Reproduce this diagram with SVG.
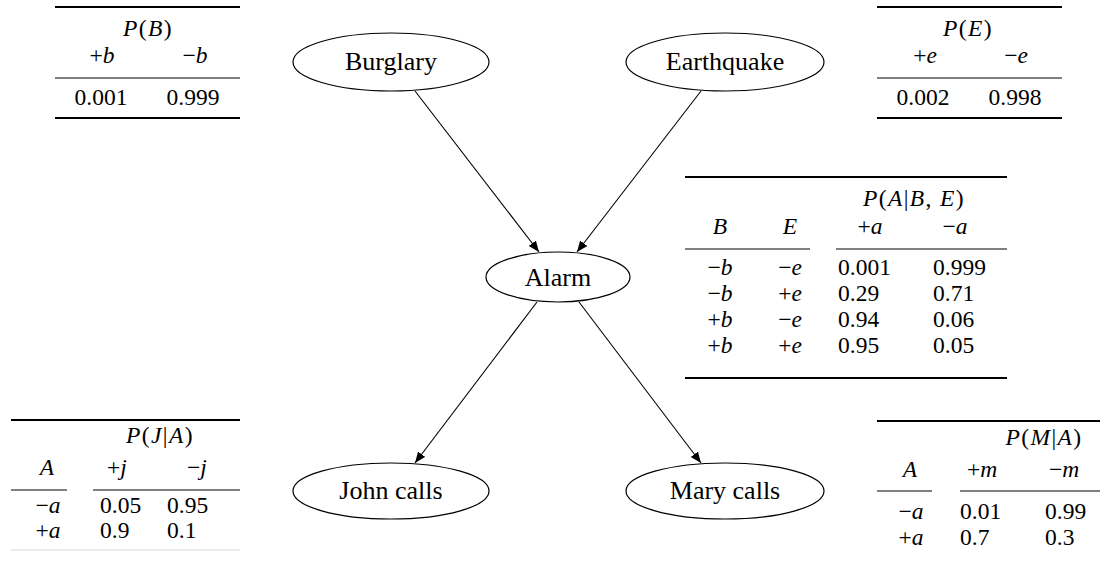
<svg xmlns="http://www.w3.org/2000/svg" width="1100" height="561" viewBox="0 0 1100 561" font-family="Liberation Serif, serif">
<defs>
<style>
text{font-family:'Liberation Serif',serif;fill:#000}
.lbl{font-size:26px;text-anchor:middle}
.t{font-size:23.5px}
.c{text-anchor:middle}
.i{font-style:italic}
.ttl{letter-spacing:1.4px}
.node{fill:#fff;stroke:#000;stroke-width:1.2}
.edge{stroke:#000;stroke-width:1.1;fill:none}
.heavy{stroke:#000;stroke-width:2}
.light{stroke:#000;stroke-width:1}
</style>
<marker id="arr" markerWidth="12" markerHeight="10" refX="11" refY="4.5" orient="auto" markerUnits="userSpaceOnUse">
<path d="M0,0 L11,4.5 L0,9 z" fill="#000"/>
</marker>
</defs>
<rect width="1100" height="561" fill="#fff"/>

<g id="connectors">
<line class="edge" x1="415" y1="91" x2="539" y2="252" marker-end="url(#arr)"/>
<line class="edge" x1="701" y1="91" x2="577" y2="252" marker-end="url(#arr)"/>
<line class="edge" x1="537" y1="302" x2="415" y2="463" marker-end="url(#arr)"/>
<line class="edge" x1="579" y1="302" x2="701" y2="463" marker-end="url(#arr)"/>
</g>

<g id="burglary">
<ellipse class="node" cx="391" cy="62" rx="98" ry="29"/>
<text class="lbl" x="391" y="70">Burglary</text>
</g>
<g id="earthquake">
<ellipse class="node" cx="725" cy="62" rx="99" ry="29"/>
<text class="lbl" x="725" y="70">Earthquake</text>
</g>
<g id="alarm">
<ellipse class="node" cx="558" cy="277" rx="72" ry="25"/>
<text class="lbl" x="558" y="286">Alarm</text>
</g>
<g id="john">
<ellipse class="node" cx="391" cy="491" rx="98" ry="28"/>
<text class="lbl" x="391" y="499">John calls</text>
</g>
<g id="mary">
<ellipse class="node" cx="725" cy="491" rx="99" ry="28"/>
<text class="lbl" x="725" y="499">Mary calls</text>
</g>

<g id="table-pb">
<line class="heavy" x1="55" y1="7" x2="240" y2="7"/>
<text class="t c ttl" x="148" y="36"><tspan class="i">P</tspan>(<tspan class="i">B</tspan>)</text>
<text class="t c" x="102" y="63">+<tspan class="i">b</tspan></text>
<text class="t c" x="195" y="63">−<tspan class="i">b</tspan></text>
<line class="light" x1="55" y1="78" x2="240" y2="78"/>
<text class="t c" x="101" y="105">0.001</text>
<text class="t c" x="193" y="105">0.999</text>
<line class="heavy" x1="55" y1="118" x2="240" y2="118"/>
</g>

<g id="table-pe">
<line class="heavy" x1="877" y1="7" x2="1062" y2="7"/>
<text class="t c ttl" x="968" y="36"><tspan class="i">P</tspan>(<tspan class="i">E</tspan>)</text>
<text class="t c" x="925" y="63">+<tspan class="i">e</tspan></text>
<text class="t c" x="1016" y="63">−<tspan class="i">e</tspan></text>
<line class="light" x1="877" y1="78" x2="1062" y2="78"/>
<text class="t c" x="923" y="105">0.002</text>
<text class="t c" x="1015" y="105">0.998</text>
<line class="heavy" x1="877" y1="118" x2="1062" y2="118"/>
</g>

<g id="table-pa">
<line class="heavy" x1="685" y1="177" x2="1007" y2="177"/>
<text class="t c ttl" x="914" y="206"><tspan class="i">P</tspan>(<tspan class="i">A</tspan>|<tspan class="i">B</tspan>, <tspan class="i">E</tspan>)</text>
<text class="t c i" x="720" y="234">B</text>
<text class="t c i" x="790" y="234">E</text>
<text class="t c" x="870" y="234">+<tspan class="i">a</tspan></text>
<text class="t c" x="955" y="234">−<tspan class="i">a</tspan></text>
<line class="light" x1="685" y1="249" x2="810" y2="249"/>
<line class="light" x1="836" y1="249" x2="1007" y2="249"/>
<text class="t c" x="720" y="275">−<tspan class="i">b</tspan></text>
<text class="t c" x="790" y="275">−<tspan class="i">e</tspan></text>
<text class="t" x="838" y="275">0.001</text>
<text class="t" x="933" y="275">0.999</text>
<text class="t c" x="720" y="301">−<tspan class="i">b</tspan></text>
<text class="t c" x="790" y="301">+<tspan class="i">e</tspan></text>
<text class="t" x="838" y="301">0.29</text>
<text class="t" x="933" y="301">0.71</text>
<text class="t c" x="720" y="327">+<tspan class="i">b</tspan></text>
<text class="t c" x="790" y="327">−<tspan class="i">e</tspan></text>
<text class="t" x="838" y="327">0.94</text>
<text class="t" x="933" y="327">0.06</text>
<text class="t c" x="720" y="353">+<tspan class="i">b</tspan></text>
<text class="t c" x="790" y="353">+<tspan class="i">e</tspan></text>
<text class="t" x="838" y="353">0.95</text>
<text class="t" x="933" y="353">0.05</text>
<line class="heavy" x1="685" y1="378" x2="1007" y2="378"/>
</g>

<g id="table-pj">
<line class="heavy" x1="11" y1="420" x2="240" y2="420"/>
<text class="t c ttl" x="160" y="443"><tspan class="i">P</tspan>(<tspan class="i">J</tspan>|<tspan class="i">A</tspan>)</text>
<text class="t c i" x="47" y="475">A</text>
<text class="t c" x="117" y="475">+<tspan class="i">j</tspan></text>
<text class="t c" x="197" y="475">−<tspan class="i">j</tspan></text>
<line class="light" x1="11" y1="490" x2="67" y2="490"/>
<line class="light" x1="93" y1="490" x2="240" y2="490"/>
<text class="t c" x="48" y="513">−<tspan class="i">a</tspan></text>
<text class="t" x="100" y="513">0.05</text>
<text class="t" x="167" y="513">0.95</text>
<text class="t c" x="48" y="538">+<tspan class="i">a</tspan></text>
<text class="t" x="100" y="538">0.9</text>
<text class="t" x="167" y="538">0.1</text>
<line x1="11" y1="550" x2="240" y2="550" stroke="#d8d8d8" stroke-width="1"/>
</g>

<g id="table-pm">
<line class="heavy" x1="877" y1="421" x2="1100" y2="421"/>
<text class="t c ttl" x="1044" y="445"><tspan class="i">P</tspan>(<tspan class="i">M</tspan>|<tspan class="i">A</tspan>)</text>
<text class="t c i" x="910" y="477">A</text>
<text class="t c" x="982" y="477">+<tspan class="i">m</tspan></text>
<text class="t c" x="1064" y="477">−<tspan class="i">m</tspan></text>
<line class="light" x1="877" y1="491" x2="932" y2="491"/>
<line class="light" x1="960" y1="491" x2="1100" y2="491"/>
<text class="t c" x="911" y="519">−<tspan class="i">a</tspan></text>
<text class="t" x="960" y="519">0.01</text>
<text class="t" x="1045" y="519">0.99</text>
<text class="t c" x="911" y="545">+<tspan class="i">a</tspan></text>
<text class="t" x="960" y="545">0.7</text>
<text class="t" x="1045" y="545">0.3</text>
</g>
</svg>
